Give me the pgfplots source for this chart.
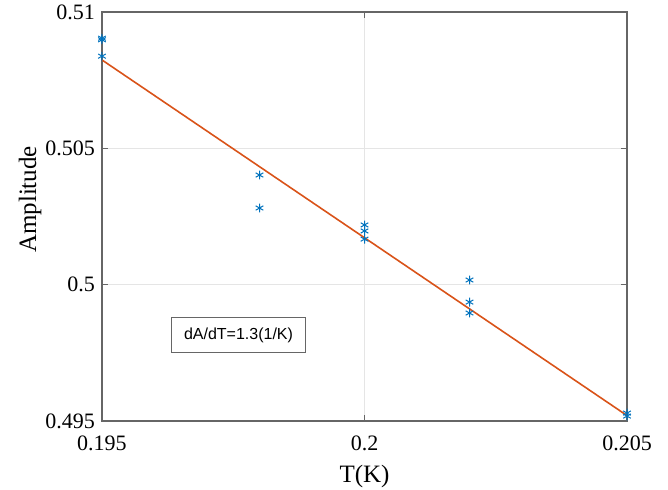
\documentclass[border=0pt]{standalone}
\usepackage{pgfplots}
\pgfplotsset{compat=1.18}
\usepackage{fontspec}
\setmainfont{Liberation Serif}
\newfontfamily\boxfont{Liberation Sans}
\definecolor{mblue}{rgb}{0,0.447,0.741}
\definecolor{morange}{rgb}{0.85,0.325,0.098}
\begin{document}
\begin{tikzpicture}
\begin{axis}[
  scale only axis,
  width=262.5pt, height=204.5pt,
  xmin=0.195, xmax=0.205, ymin=0.495, ymax=0.51,
  xtick={0.195,0.2,0.205}, ytick={0.495,0.5,0.505,0.51},
  xticklabels={0.195,0.2,0.205}, yticklabels={0.495,0.5,0.505,0.51},
  scaled ticks=false,
  grid=major,
  major grid style={draw=black!10, line width=0.4pt},
  axis line style={draw=black!60, line width=0.6pt},
  tick style={draw=black!60, line width=0.5pt},
  major tick length=3pt,
  tick align=inside,
  xticklabel style={font=\fontsize{11}{13}\selectfont, anchor=center, yshift=-11pt},
  yticklabel style={font=\fontsize{11}{13}\selectfont},
  xlabel={T(K)}, ylabel={Amplitude},
  label style={font=\fontsize{12.5}{14}\selectfont},
  xlabel style={at={(axis description cs:0.5,-0.1345)}, anchor=center},
  ylabel style={at={(axis description cs:-0.137,0.5416)}, anchor=center},
  /pgf/number format/assume math mode=true,
]
\addplot[only marks, mark=asterisk, mark size=2.2pt, color=mblue, mark options={line width=0.5pt}] coordinates {
  (0.195,0.50904) (0.195,0.50898) (0.195,0.50838)
  (0.198,0.50402) (0.198,0.50281)
  (0.2,0.50219) (0.2,0.50197) (0.2,0.50167)
  (0.202,0.50017) (0.202,0.49936) (0.202,0.49896)
  (0.205,0.49529) (0.205,0.49518)
};
\addplot[color=morange, line width=0.8pt, no marks] coordinates {
  (0.195,0.50824) (0.205,0.49520)
};
\node[draw=black!60, fill=white, line width=0.5pt, inner xsep=6.5pt, inner ysep=5pt, font=\boxfont\fontsize{8}{9.5}\selectfont] at (axis cs:0.19760,0.49815) {dA/dT=1.3(1/K)};
\end{axis}
\pgfresetboundingbox
\path[use as bounding box] ([xshift=-51pt,yshift=-34.5pt]current axis.south west) rectangle ([xshift=20.5pt,yshift=6pt]current axis.north east);
\end{tikzpicture}
\end{document}
